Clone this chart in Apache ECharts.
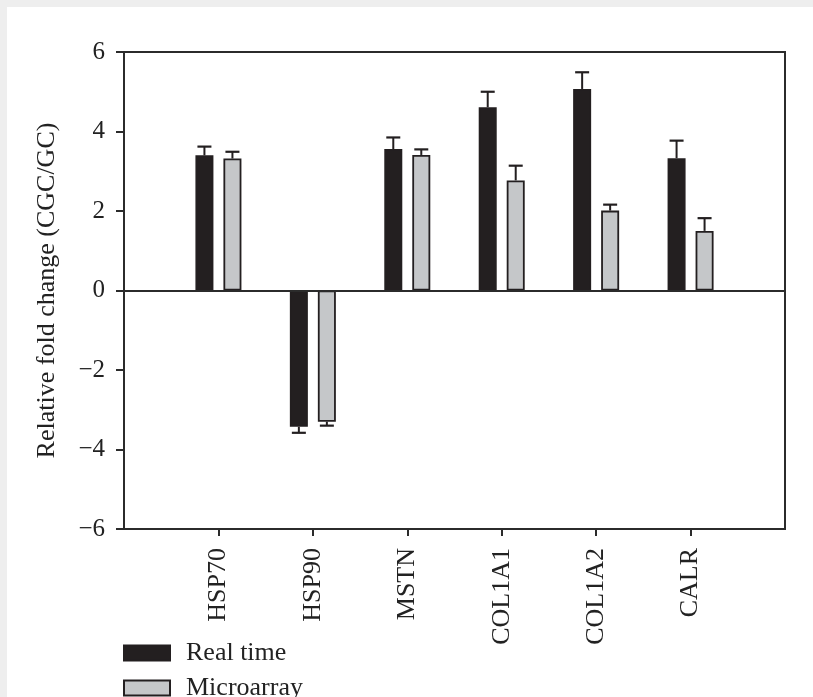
<!DOCTYPE html>
<html>
<head>
<meta charset="utf-8">
<script src="https://cdn.jsdelivr.net/npm/echarts@6/dist/echarts.min.js"></script>
<style>
  html, body { margin: 0; padding: 0; background: #ffffff; }
  #chart { position: absolute; left: 0; top: 0; width: 813px; height: 697px; background: #ffffff; }
  .strip { position: absolute; background: #eeeeee; pointer-events: none; z-index: 5; }
</style>
</head>
<body>
<div id="chart"></div>
<div class="strip" style="left:0;top:0;width:813px;height:7px;"></div>
<div class="strip" style="left:0;top:0;width:7px;height:697px;"></div>
<script>
// ---- data ----
const categories = ['HSP70', 'HSP90', 'MSTN', 'COL1A1', 'COL1A2', 'CALR'];
const realTime = [3.40, -3.43, 3.56, 4.61, 5.07, 3.33];
const realTimeErr = [0.22, 0.15, 0.29, 0.39, 0.42, 0.44];
const microarray = [3.32, -3.30, 3.41, 2.77, 2.01, 1.50];
const microarrayErr = [0.17, 0.10, 0.14, 0.37, 0.15, 0.32];
const yTicks = [-6, -4, -2, 0, 2, 4, 6];
const seriesNames = ['Real time', 'Microarray'];

// ---- style ----
const INK = '#231f20';
const GRAY = '#c5c7c9';
const FONT = '"Liberation Serif", "Times New Roman", serif';
const BAR_W = 18;
const BAR_GAP = 10;
const OFFSET = (BAR_W + BAR_GAP) / 2;

// pad one empty slot at each end so categories sit like the reference
const axisCats = [''].concat(categories, ['']);
const pad = arr => [null].concat(arr, [null]);

function errorSeries(name, vals, errs, dir) {
  const data = vals.map((v, i) => [i + 1, v, errs[i]]);
  return {
    type: 'custom',
    name: name + ' err',
    silent: true,
    z: 3,
    data: data,
    renderItem: function (params, api) {
      const idx = api.value(0);
      const v = api.value(1);
      const e = api.value(2);
      const sign = v >= 0 ? 1 : -1;
      const p0 = api.coord([idx, v]);
      const p1 = api.coord([idx, v + sign * e]);
      const x = p0[0] + dir * OFFSET;
      const cap = 7;
      return {
        type: 'group',
        children: [
          { type: 'line', shape: { x1: x, y1: p0[1], x2: x, y2: p1[1] },
            style: { stroke: INK, lineWidth: 2 } },
          { type: 'line', shape: { x1: x - cap, y1: p1[1], x2: x + cap, y2: p1[1] },
            style: { stroke: INK, lineWidth: 2.2 } }
        ]
      };
    }
  };
}

function legendFor(name, top) {
  return {
    left: 123, top: top,
    orient: 'horizontal',
    padding: 0,
    icon: 'rect',
    itemWidth: 46, itemHeight: 15,
    data: [name],
    selectedMode: false,
    textStyle: { fontFamily: FONT, fontSize: 26, lineHeight: 18, color: '#222', padding: [0, 0, 0, 11] }
  };
}

const chart = echarts.init(document.getElementById('chart'), null, { renderer: 'canvas' });
chart.setOption({
  animation: false,
  backgroundColor: '#ffffff',
  grid: {
    left: 124, top: 52, right: 28, bottom: 168,
    show: true, borderColor: '#2b2b2b', borderWidth: 2, backgroundColor: 'transparent'
  },
  legend: [legendFor(seriesNames[0], 640), legendFor(seriesNames[1], 675)],
  xAxis: {
    type: 'category',
    data: axisCats,
    boundaryGap: false,
    axisLine: { onZero: false, lineStyle: { color: '#2b2b2b', width: 2 } },
    axisTick: {
      show: true, length: 7, inside: false,
      interval: function (i, v) { return v !== ''; },
      lineStyle: { color: '#2b2b2b', width: 2 }
    },
    axisLabel: {
      rotate: 90, margin: 19, interval: 0,
      fontFamily: FONT, fontSize: 26, color: '#222'
    },
    splitLine: { show: false }
  },
  yAxis: {
    type: 'value',
    min: -6, max: 6, interval: 2,
    name: 'Relative fold change (CGC/GC)',
    nameLocation: 'middle',
    nameGap: 64,
    nameTextStyle: { fontFamily: FONT, fontSize: 26, color: '#222' },
    axisLine: { show: true, onZero: false, lineStyle: { color: '#2b2b2b', width: 2 } },
    axisTick: { show: true, length: 8, lineStyle: { color: '#2b2b2b', width: 2 } },
    axisLabel: {
      margin: 19, fontFamily: FONT, fontSize: 25, color: '#222',
      formatter: function (v) { return yTicks.indexOf(v) >= 0 ? String(v).replace('-', '\u2212') : ''; }
    },
    splitLine: { show: false }
  },
  series: [
    {
      name: seriesNames[0], type: 'bar',
      data: pad(realTime),
      barWidth: BAR_W, barGap: (BAR_GAP / BAR_W * 100) + '%',
      itemStyle: { color: INK, borderColor: INK, borderWidth: 1.5 },
      markLine: {
        silent: true, symbol: 'none', label: { show: false },
        lineStyle: { color: '#2b2b2b', width: 2, type: 'solid' },
        data: [{ yAxis: 0 }]
      }
    },
    {
      name: seriesNames[1], type: 'bar',
      data: pad(microarray),
      barWidth: BAR_W,
      itemStyle: { color: GRAY, borderColor: INK, borderWidth: 1.8 }
    },
    errorSeries(seriesNames[0], realTime, realTimeErr, -1),
    errorSeries(seriesNames[1], microarray, microarrayErr, 1)
  ]
});
</script>
</body>
</html>
